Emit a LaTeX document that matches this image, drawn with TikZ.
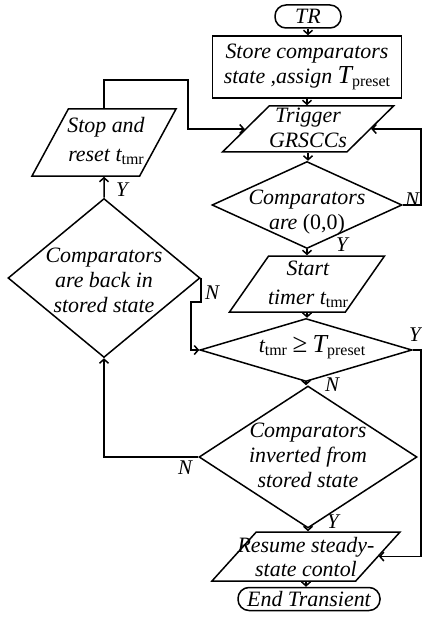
\documentclass[tikz,border=0pt]{standalone}
\usepackage{fontspec}
\setmainfont{Liberation Serif}
\usetikzlibrary{shapes.geometric,arrows.meta}
\newcommand{\subtx}[1]{\raisebox{-0.3ex}{\fontsize{16}{16}\selectfont\upshape #1}}
\newcommand{\ttmr}{\textit{t}\subtx{tmr}}
\newcommand{\Tpre}{{\fontsize{26}{26}\selectfont\textit{T}}\subtx{preset}}
\newcommand{\emptyfill}{\phantom{\rule{1bp}{1bp}}}

\begin{document}
\begin{tikzpicture}[x=1bp,y=-1bp,line width=1.5bp,>={Straight Barb[length=4bp,width=9bp]}]
\tikzstyle{every node}+=[inner sep=0pt]
\tikzset{txt/.style={font=\fontsize{22}{25}\selectfont\itshape,align=center},
  term/.style={draw,rounded corners=11bp,minimum height=23bp,txt},
  box/.style={draw,minimum width=189bp,minimum height=62bp,txt},
  para/.style 2 args={draw,trapezium,trapezium stretches=true,trapezium left angle=#1,trapezium right angle=#2},
  dia/.style={draw,diamond},
  lbl/.style={font=\fontsize{21}{24}\selectfont\itshape}}
\useasboundingbox (0,0) rectangle (421,618);
% main column
\node[term,minimum width=66bp] (tr) at (308,16.5) {TR};
\node[box] (store) at (307,67) {Store comparators\\state ,assign \Tpre};
\node[para={59}{121},minimum width=171bp,minimum height=46bp] (trig) at (308,129) {\emptyfill};
\node[txt] (trigt) at (308,128) {Trigger\\GRSCCs};
\node[dia,minimum width=190bp,minimum height=87bp] (dec1) at (307,205) {};
\node[txt] (dec1t) at (307,212) {Comparators\\are \upshape(0,0)};
\node[para={63}{117},minimum width=155bp,minimum height=56bp] (start) at (307,284) {\emptyfill};
\node[txt] (startt) at (308,284) {Start\\[4bp]timer \ttmr};
\node[dia,minimum width=212bp,minimum height=63bp] (tdia) at (306,350) {};
\node[txt] (tdiat) at (312,347) {\ttmr\ {\fontsize{27}{27}\selectfont\upshape≥} \Tpre};
\node[dia,minimum width=218bp,minimum height=142bp] (inv) at (308,457) {};
\node[txt] (invt) at (308,455) {Comparators\\inverted from\\stored state};
\node[para={66}{114},minimum width=188bp,minimum height=49bp] (res) at (306,556.5) {\emptyfill};
\node[txt] (rest) at (306,557) {Resume steady-\\state contol};
\node[term,minimum width=142bp] (end) at (309,599) {End Transient};
% left column
\node[para={63}{117},minimum width=144bp,minimum height=67bp] (stop) at (104,142.5) {\emptyfill};
\node[txt] (stopt) at (106,141) {Stop and\\[4bp]reset \ttmr};
\node[dia,minimum width=192bp,minimum height=159bp] (back) at (104,278) {};
\node[txt] (backt) at (104,280) {Comparators\\are back in\\stored state};
% branch labels
\node[lbl] (n1) at (412,200) {N};
\node[lbl] (y1) at (342,245) {Y};
\node[lbl] (n2) at (212,293) {N};
\node[lbl] (y2) at (122,190) {Y};
\node[lbl] (y3) at (415,335) {Y};
\node[lbl] (n3) at (332,385) {N};
\node[lbl] (n4) at (185,468) {N};
\node[lbl] (y4) at (333,522) {Y};
\coordinate (c1) at (188,80);
% connectors
\draw[->] (tr.south) -- (tr.south |- store.north);
\draw[->] (store.south) -- (store.south |- trig.north);
\draw[->] (trig.south) -- (trig.south |- dec1.north);
\draw[->] (dec1.south) -- (dec1.south |- start.north);
\draw[->] (start.south) -- (start.south |- tdia.north);
\draw[->] (tdia.south) -- (tdia.south |- inv.north);
\draw[->] (inv.south) -- (inv.south |- res.north);
\draw[->] (res.south) -- (res.south |- end.north);
\draw[->] (dec1.east) -- ++(18,0) |- (trig.east);
\draw[->] (tdia.east) -- ++(8,0) |- (res.east);
\draw[->] (stop.north) |- (c1) |- (trig.west);
\draw[->] (back.north) -- (stop.south);
\draw[->] (back.east) -- ++(0,24) -- ++(-10,0) |- (tdia.west);
\draw[->] (inv.west) -| (back.south);
\end{tikzpicture}
\end{document}
